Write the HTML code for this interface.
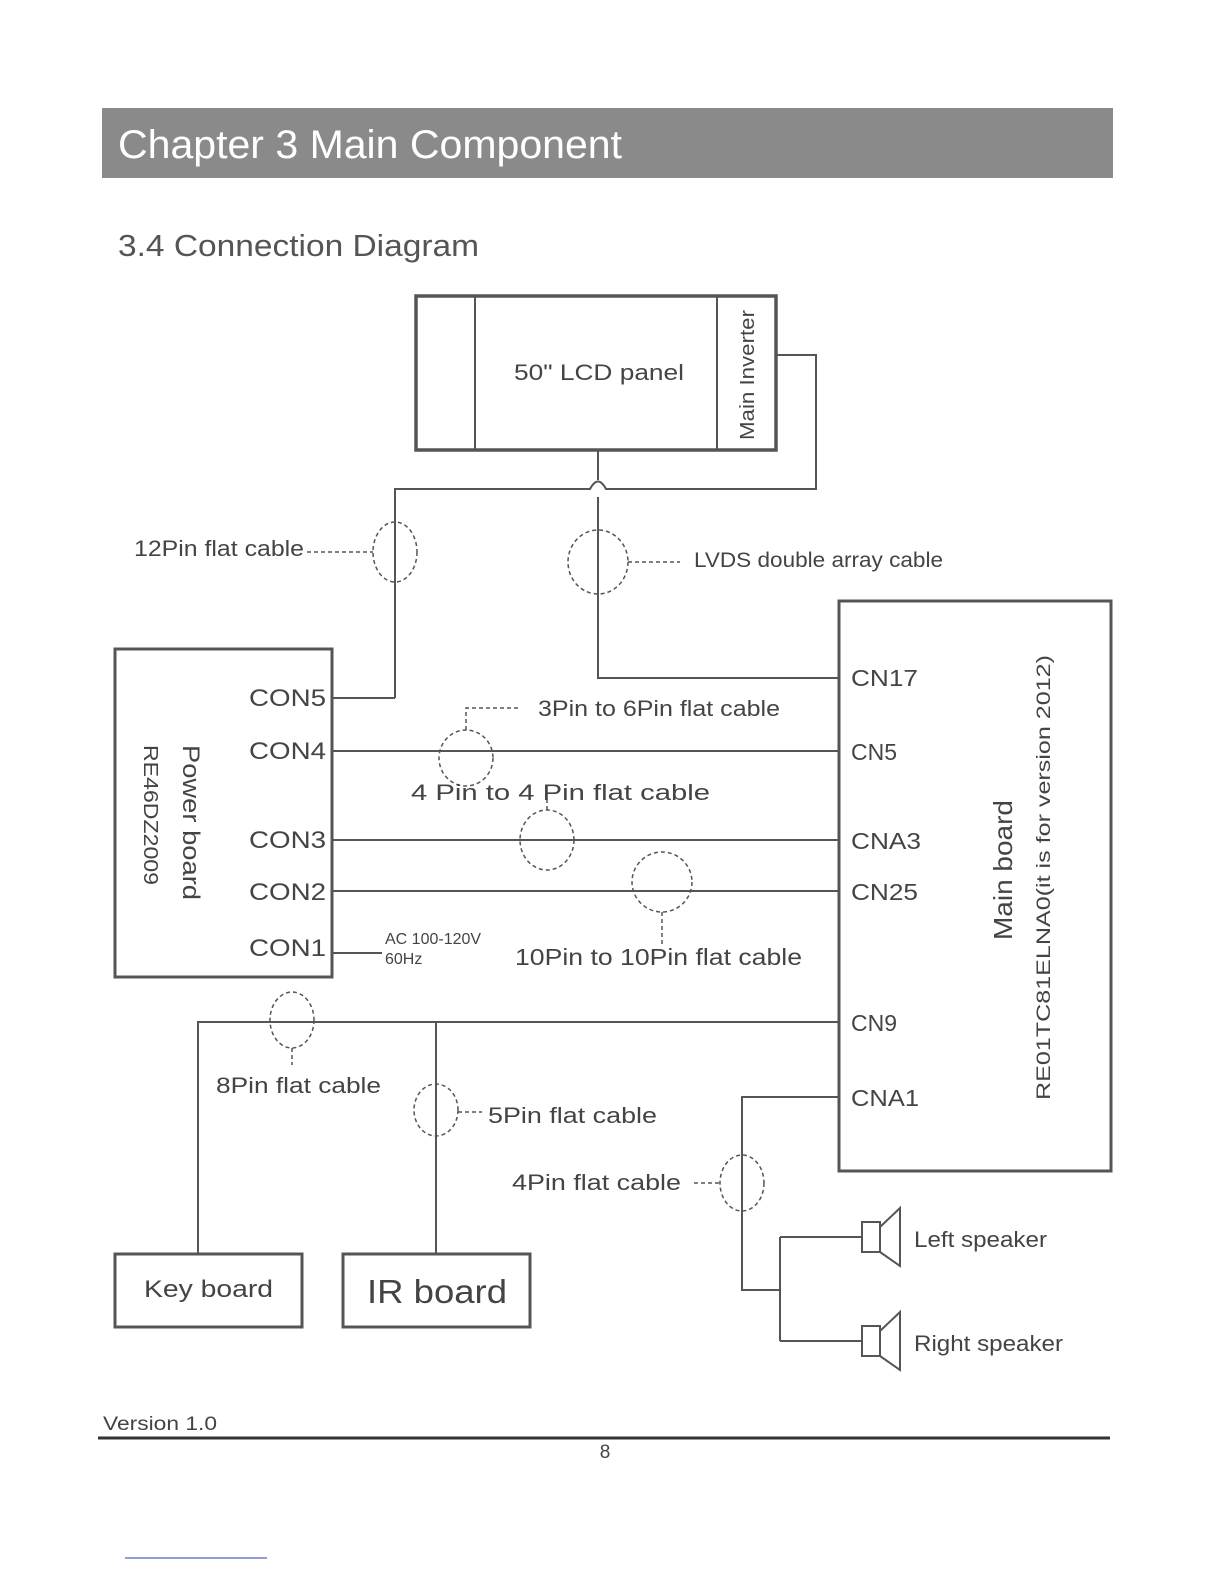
<!DOCTYPE html>
<html><head><style>html,body{margin:0;background:#fff;overflow:hidden}svg{display:block}text{font-family:"Liberation Sans",sans-serif;fill:#444}</style></head><body>
<svg width="1224" height="1584" viewBox="0 0 1224 1584" xmlns="http://www.w3.org/2000/svg">
<rect x="102" y="108" width="1011" height="70" fill="#8a8a8a"/>
<text x="118" y="158" font-size="40" textLength="504" lengthAdjust="spacingAndGlyphs" style="fill:#fff">Chapter 3 Main Component</text>
<text x="118" y="256" font-size="31" textLength="361" lengthAdjust="spacingAndGlyphs" style="fill:#555">3.4 Connection Diagram</text>
<g stroke="#555" fill="none">
<rect x="416" y="296" width="360" height="154" stroke-width="3.5"/>
<line x1="475" y1="296" x2="475" y2="450" stroke-width="2"/>
<line x1="717" y1="296" x2="717" y2="450" stroke-width="2"/>
<g stroke-width="2">
<path d="M598 450 V480 M598 497 V678 H838"/>
<path d="M395 698 V489 H590 Q598 474 606 489 H816 V355 H777"/>
<path d="M395 698 H332"/>
<path d="M332 751 H838 M332 840 H838 M332 891 H838 M332 953 H382"/>
<path d="M198 1253 V1022 H838 M436 1022 V1253"/>
<path d="M838 1097 H742 V1290 H780 M780 1237 V1341 M780 1237 H862 M780 1341 H862"/>
</g>
<rect x="115" y="649" width="217" height="328" stroke-width="3"/>
<rect x="839" y="601" width="272" height="570" stroke-width="3"/>
<rect x="115" y="1254" width="187" height="73" stroke-width="3"/>
<rect x="343" y="1254" width="187" height="73" stroke-width="3"/>
<g stroke-width="1.5" stroke-dasharray="4,3">
<ellipse cx="395" cy="552" rx="22" ry="30"/>
<ellipse cx="598" cy="562" rx="30" ry="32"/>
<ellipse cx="466" cy="758" rx="27" ry="28"/>
<ellipse cx="547" cy="840" rx="27" ry="30"/>
<ellipse cx="662" cy="882" rx="30" ry="30"/>
<ellipse cx="292" cy="1020" rx="22" ry="28"/>
<ellipse cx="436" cy="1110" rx="22" ry="26"/>
<ellipse cx="742" cy="1183" rx="22" ry="28"/>
<path d="M307 552 H373 M628 562 H680 M466 730 V708 H520 M547 810 V800 M662 912 V945 M292 1048 V1065 M458 1112 H482 M694 1183 H720"/>
</g>
<g stroke-width="2">
<rect x="862" y="1222" width="18" height="30"/>
<path d="M880 1227 L900 1208 V1266 L880 1252"/>
<rect x="862" y="1326" width="18" height="30"/>
<path d="M880 1331 L900 1312 V1370 L880 1356"/>
</g>
</g>
<text x="514" y="380" font-size="22" textLength="170" lengthAdjust="spacingAndGlyphs">50" LCD panel</text>
<text transform="translate(754,440) rotate(-90)" font-size="20" textLength="130" lengthAdjust="spacingAndGlyphs">Main Inverter</text>
<text x="134" y="556" font-size="22" textLength="170" lengthAdjust="spacingAndGlyphs">12Pin flat cable</text>
<text x="694" y="567" font-size="21" textLength="249" lengthAdjust="spacingAndGlyphs">LVDS double array cable</text>
<g font-size="24">
<text x="249" y="706" textLength="77" lengthAdjust="spacingAndGlyphs">CON5</text><text x="249" y="759" textLength="77" lengthAdjust="spacingAndGlyphs">CON4</text><text x="249" y="848" textLength="77" lengthAdjust="spacingAndGlyphs">CON3</text><text x="249" y="900" textLength="77" lengthAdjust="spacingAndGlyphs">CON2</text><text x="249" y="956" textLength="77" lengthAdjust="spacingAndGlyphs">CON1</text>
</g>
<g font-size="23">
<text x="851" y="686" textLength="67" lengthAdjust="spacingAndGlyphs">CN17</text><text x="851" y="760">CN5</text><text x="851" y="849" textLength="70" lengthAdjust="spacingAndGlyphs">CNA3</text><text x="851" y="900" textLength="67" lengthAdjust="spacingAndGlyphs">CN25</text><text x="851" y="1031">CN9</text><text x="851" y="1106" textLength="68" lengthAdjust="spacingAndGlyphs">CNA1</text>
</g>
<text transform="translate(183,745) rotate(90)" font-size="24" textLength="155" lengthAdjust="spacingAndGlyphs">Power board</text>
<text transform="translate(144,745) rotate(90)" font-size="20" textLength="140" lengthAdjust="spacingAndGlyphs">RE46DZ2009</text>
<text transform="translate(1012,940) rotate(-90)" font-size="26" textLength="140" lengthAdjust="spacingAndGlyphs">Main board</text>
<text transform="translate(1050,1100) rotate(-90)" font-size="19" textLength="445" lengthAdjust="spacingAndGlyphs">RE01TC81ELNA0(it is for version 2012)</text>
<text x="538" y="716" font-size="22" textLength="242" lengthAdjust="spacingAndGlyphs">3Pin to 6Pin flat cable</text>
<text x="411" y="800" font-size="22" textLength="299" lengthAdjust="spacingAndGlyphs">4 Pin  to 4 Pin  flat cable</text>
<text x="385" y="944" font-size="16">AC 100-120V</text>
<text x="385" y="964" font-size="16">60Hz</text>
<text x="515" y="965" font-size="23" textLength="287" lengthAdjust="spacingAndGlyphs">10Pin to 10Pin flat cable</text>
<text x="216" y="1093" font-size="22" textLength="165" lengthAdjust="spacingAndGlyphs">8Pin flat cable</text>
<text x="488" y="1123" font-size="22" textLength="169" lengthAdjust="spacingAndGlyphs">5Pin flat cable</text>
<text x="512" y="1190" font-size="22" textLength="169" lengthAdjust="spacingAndGlyphs">4Pin flat cable</text>
<text x="914" y="1247" font-size="22" textLength="133" lengthAdjust="spacingAndGlyphs">Left speaker</text>
<text x="914" y="1351" font-size="22" textLength="149" lengthAdjust="spacingAndGlyphs">Right speaker</text>
<text x="144" y="1297" font-size="24" textLength="129" lengthAdjust="spacingAndGlyphs">Key board</text>
<text x="367" y="1303" font-size="33" textLength="140" lengthAdjust="spacingAndGlyphs">IR board</text>
<text x="103" y="1430" font-size="19" textLength="114" lengthAdjust="spacingAndGlyphs">Version 1.0</text>
<line x1="98" y1="1438" x2="1110" y2="1438" stroke="#333" stroke-width="3"/>
<text x="605" y="1458" font-size="19" text-anchor="middle">8</text>
<line x1="125" y1="1558" x2="267" y2="1558" stroke="#6b7cd6" stroke-width="1.5"/>
</svg>
</body></html>
